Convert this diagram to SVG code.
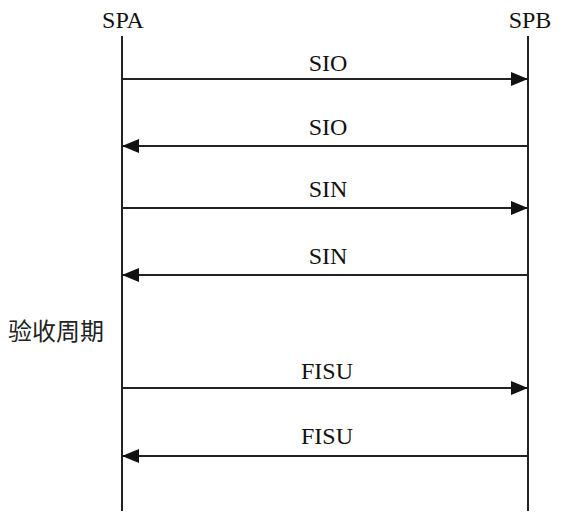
<svg xmlns="http://www.w3.org/2000/svg" width="566" height="520" viewBox="0 0 566 520">
<style>
text{font-family:"Liberation Serif","Times New Roman",Times,serif}
.t{font-size:24px;fill:#111;text-anchor:middle}
.cjk{font-family:"Noto Sans CJK SC",sans-serif;font-size:24px;fill:#222}
.life{stroke:#222;stroke-width:2;fill:none}
.msg{stroke:#222;stroke-width:2;fill:none}
</style>
<defs>
<marker id="ah" markerUnits="userSpaceOnUse" markerWidth="18" markerHeight="14" refX="17" refY="7" orient="auto">
<path d="M0,0 L17,7 L0,14 Z" fill="#111"/>
</marker>
</defs>
<rect width="566" height="520" fill="#fff"/>
<g id="SPA">
<text class="t" x="123" y="28" font-family="Liberation Serif, serif">SPA</text>
<line class="life" x1="122" y1="36" x2="122" y2="511"/>
</g>
<g id="SPB">
<text class="t" x="530" y="28" font-family="Liberation Serif, serif">SPB</text>
<line class="life" x1="528" y1="36" x2="528" y2="511"/>
</g>
<g id="phase">
<text class="cjk" x="8" y="340">验收周期</text>
</g>
<g id="connectors">
<line class="msg" x1="122" y1="79" x2="528" y2="79" marker-end="url(#ah)"/>
<text class="t" x="328" y="71" font-family="Liberation Serif, serif">SIO</text>
<line class="msg" x1="528" y1="146" x2="122" y2="146" marker-end="url(#ah)"/>
<text class="t" x="328" y="135" font-family="Liberation Serif, serif">SIO</text>
<line class="msg" x1="122" y1="208" x2="528" y2="208" marker-end="url(#ah)"/>
<text class="t" x="328" y="197" font-family="Liberation Serif, serif">SIN</text>
<line class="msg" x1="528" y1="275" x2="122" y2="275" marker-end="url(#ah)"/>
<text class="t" x="328" y="264" font-family="Liberation Serif, serif">SIN</text>
<line class="msg" x1="122" y1="388" x2="528" y2="388" marker-end="url(#ah)"/>
<text class="t" x="327" y="379" font-family="Liberation Serif, serif">FISU</text>
<line class="msg" x1="528" y1="456" x2="122" y2="456" marker-end="url(#ah)"/>
<text class="t" x="327" y="444" font-family="Liberation Serif, serif">FISU</text>
</g>
</svg>
